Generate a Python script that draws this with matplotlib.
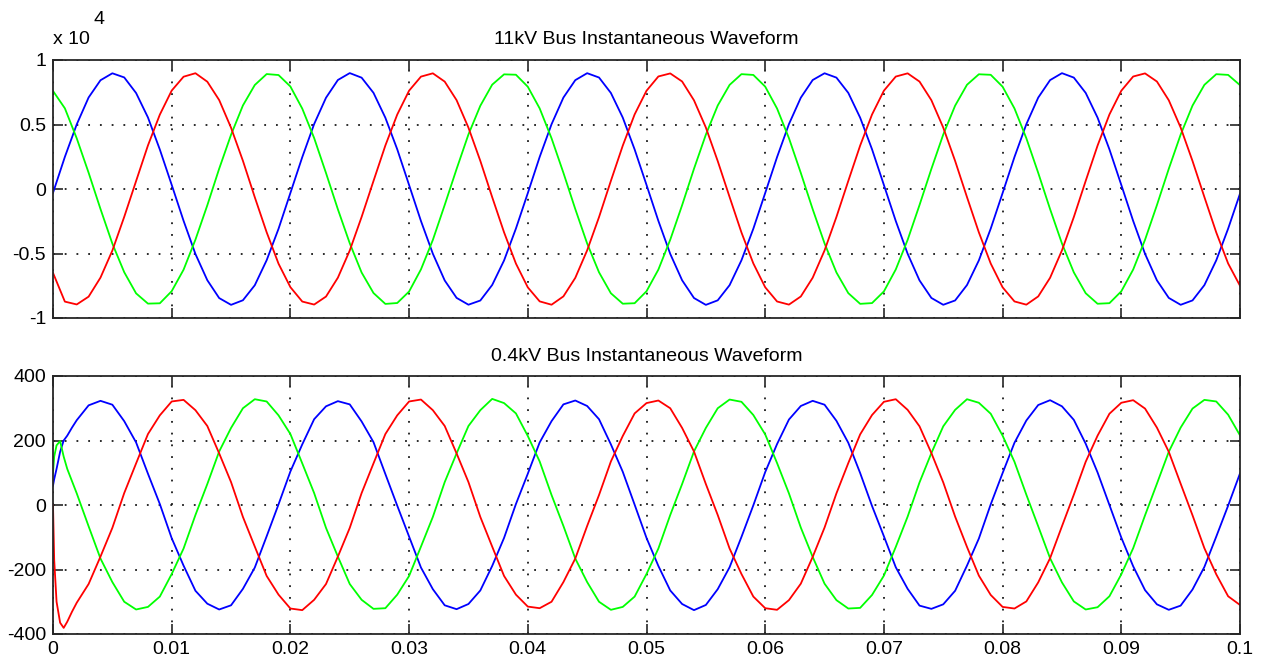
import numpy as np
import matplotlib
matplotlib.use("Agg")
import matplotlib.pyplot as plt

plt.rcParams["font.family"] = ["Liberation Sans", "DejaVu Sans"]
plt.rcParams["axes.unicode_minus"] = False

# ---------------------------------------------------------------------------
# Sampled bus voltages (V), three phases, 1 ms sample step
# ---------------------------------------------------------------------------
t_hv = np.linspace(0.0, 0.1, 101)

hv_phase_a = [
    -300, 2490, 5010, 7095, 8430, 8970, 8650, 7440, 5545, 3060, 320, -2465, -5040, -7070, -8455, -8980, -8625, -7460, -5520, -3085,
    -305, 2470, 5035, 7075, 8450, 8985, 8630, 7455, 5525, 3080, 305, -2485, -5015, -7090, -8440, -8970, -8645, -7440, -5540, -3065,
    -320, 2485, 5020, 7088, 8438, 8978, 8642, 7445, 5536, 3068, 318, -2470, -5030, -7075, -8450, -8982, -8630, -7455, -5525, -3080,
    -310, 2475, 5030, 7078, 8448, 8972, 8635, 7452, 5528, 3078, 308, -2480, -5020, -7085, -8446, -8976, -8640, -7446, -5535, -3070,
    -315, 2480, 5022, 7084, 8441, 8980, 8636, 7448, 5533, 3071, 315, -2475, -5027, -7079, -8442, -8977, -8637, -7451, -5529, -3075,
    -360,
]
hv_phase_b = [
    -6500, -8730, -8950, -8345, -6870, -4775, -2160, 615, 3380, 5765, 7630, 8705, 8975, 8318, 6895, 4750, 2185, -640, -3355, -5790,
    -7610, -8725, -8958, -8338, -6875, -4768, -2165, 620, 3372, 5770, 7625, 8712, 8968, 8325, 6888, 4755, 2180, -632, -3360, -5782,
    -7625, -8712, -8970, -8324, -6888, -4755, -2180, 633, 3360, 5782, 7615, 8724, 8960, 8336, 6876, 4767, 2166, -621, -3372, -5770,
    -7618, -8720, -8962, -8332, -6880, -4763, -2170, 625, 3368, 5774, 7622, 8716, 8966, 8328, 6884, 4759, 2176, -629, -3363, -5779,
    -7622, -8716, -8966, -8328, -6884, -4759, -2176, 629, 3364, 5778, 7618, 8720, 8962, 8332, 6880, 4763, 2170, -625, -3368, -5774,
    -7500,
]
hv_phase_c = [
    7600, 6255, 3925, 1262, -1548, -4232, -6450, -8090, -8885, -8860, -7920, -6255, -3925, -1262, 1575, 4205, 6478, 8062, 8910, 8835,
    7945, 6230, 3950, 1237, -1573, -4207, -6476, -8064, -8908, -8838, -7946, -6230, -3950, -1237, 1549, 4231, 6452, 8088, 8888, 8858,
    7928, 6248, 3932, 1255, -1555, -4225, -6458, -8082, -8892, -8854, -7928, -6248, -3932, -1255, 1567, 4213, 6470, 8070, 8904, 8842,
    7938, 6238, 3942, 1245, -1565, -4215, -6468, -8072, -8902, -8844, -7938, -6238, -3942, -1245, 1557, 4223, 6460, 8080, 8894, 8852,
    7931, 6245, 3935, 1252, -1558, -4222, -6461, -8079, -8895, -8851, -7931, -6245, -3935, -1252, 1564, 4216, 6467, 8073, 8901, 8845,
    8050,
]

# LV bus: denser samples over the switching transient, then 1 ms steps
t_lv_start = [0.0, 0.0001, 0.0003, 0.0006, 0.0009, 0.0012, 0.0016]
t_lv = np.concatenate([t_lv_start, np.linspace(0.002, 0.1, 99)])

lv_phase_a = [
    60, 80, 112, 165, 200, 215, 240,
    263, 309, 323, 311, 260, 194, 97, 3, -103, -188, -266, -306, -324, -311, -260, -194, -97, 2,
    104, 188, 266, 306, 322, 312, 259, 195, 96, -2, -98, -194, -261, -311, -323, -307, -265, -189, -102, 3,
    97, 194, 260, 312, 324, 307, 266, 188, 103, 1, -102, -189, -265, -307, -326, -310, -261, -193, -99, -1,
    102, 189, 265, 307, 323, 311, 261, 193, 99, -3, -97, -193, -260, -312, -322, -308, -266, -188, -104, 2,
    99, 193, 262, 310, 325, 306, 264, 190, 101, 0, -101, -190, -264, -308, -325, -312, -262, -192, -98, -2,
    98,
]
lv_phase_b = [
    0, -170, -300, -365, -381, -362, -331,
    -303, -245, -160, -71, 37, 129, 220, 278, 321, 326, 294, 245, 160, 71, -37, -129, -220, -278,
    -321, -326, -294, -245, -160, -71, 37, 129, 220, 278, 321, 327, 294, 245, 160, 71, -37, -129, -220, -278,
    -315, -320, -300, -239, -166, -65, 31, 135, 214, 284, 316, 324, 300, 239, 166, 65, -31, -135, -214, -284,
    -320, -325, -295, -244, -161, -70, 36, 130, 219, 279, 320, 328, 295, 244, 161, 70, -36, -130, -219, -279,
    -316, -321, -299, -240, -165, -66, 32, 134, 215, 283, 317, 325, 299, 240, 165, 66, -32, -134, -215, -283,
    -310,
]
lv_phase_c = [
    100, 150, 185, 198, 150, 112, 74,
    36, -66, -166, -239, -300, -324, -316, -284, -214, -135, -31, 65, 166, 239, 300, 328, 321, 278,
    220, 129, 37, -71, -160, -245, -294, -322, -320, -278, -220, -129, -37, 71, 160, 245, 294, 329, 316, 284,
    214, 135, 31, -65, -166, -239, -300, -325, -316, -284, -214, -135, -31, 65, 166, 239, 300, 327, 320, 279,
    219, 130, 36, -70, -161, -244, -295, -321, -319, -279, -219, -130, -36, 70, 161, 244, 295, 328, 317, 283,
    215, 134, 32, -66, -165, -240, -299, -324, -317, -283, -215, -134, -32, 66, 165, 240, 299, 326, 321, 280,
    216,
]

x_ticks = [0, 0.01, 0.02, 0.03, 0.04, 0.05, 0.06, 0.07, 0.08, 0.09, 0.1]
x_labels = ["0", "0.01", "0.02", "0.03", "0.04", "0.05", "0.06", "0.07", "0.08", "0.09", "0.1"]
hv_ticks = [-1e4, -0.5e4, 0, 0.5e4, 1e4]
hv_labels = ["-1", "-0.5", "0", "0.5", "1"]
lv_ticks = [-400, -200, 0, 200, 400]
lv_labels = ["-400", "-200", "0", "200", "400"]

titles = ["11kV Bus Instantaneous Waveform", "0.4kV Bus Instantaneous Waveform"]

# ---------------------------------------------------------------------------
W, H = 1262, 666
fig = plt.figure(figsize=(W / 100, H / 100), dpi=100)
fig.patch.set_facecolor("white")

left, right = 53, 1240
ax1 = fig.add_axes([left / W, 1 - 318 / H, (right - left) / W, 258 / H])
ax2 = fig.add_axes([left / W, 1 - 634 / H, (right - left) / W, 258 / H])

FS = 14
frame = "#262626"


def style(ax, yt, yl, show_x):
    ax.set_xlim(0, 0.1)
    ax.set_xticks(x_ticks)
    ax.set_xticklabels(x_labels if show_x else [])
    ax.set_yticks(yt)
    ax.set_yticklabels(yl)
    ax.set_ylim(yt[0], yt[-1])
    ax.grid(True, color="#1a1a1a", linestyle=(0, (1, 5.5)), linewidth=1.3)
    ax.tick_params(direction="in", length=7, width=1.2, top=True, right=True,
                   labelsize=FS, pad=5, color=frame, labelcolor="black")
    for s in ax.spines.values():
        s.set_linewidth(1.3)
        s.set_color(frame)


for ax, t, a, b, c in [
    (ax1, t_hv, hv_phase_a, hv_phase_b, hv_phase_c),
    (ax2, t_lv, lv_phase_a, lv_phase_b, lv_phase_c),
]:
    ax.plot(t, a, color="#0000ff", lw=1.3)
    ax.plot(t, c, color="#00ff00", lw=1.3)
    ax.plot(t, b, color="#ff0000", lw=1.3)

style(ax1, hv_ticks, hv_labels, False)
style(ax2, lv_ticks, lv_labels, True)

ax1.set_title(titles[0], fontsize=14, pad=11.5)
ax2.set_title(titles[1], fontsize=14, pad=10.5)

# MATLAB-style exponent label for the upper axis
fig.text(53 / W, 1 - 40 / H, "x 10", fontsize=FS, ha="left", va="center")
fig.text(93 / W, 1 - 20 / H, "4", fontsize=FS, ha="left", va="center")

fig.savefig("out.png", dpi=100)
